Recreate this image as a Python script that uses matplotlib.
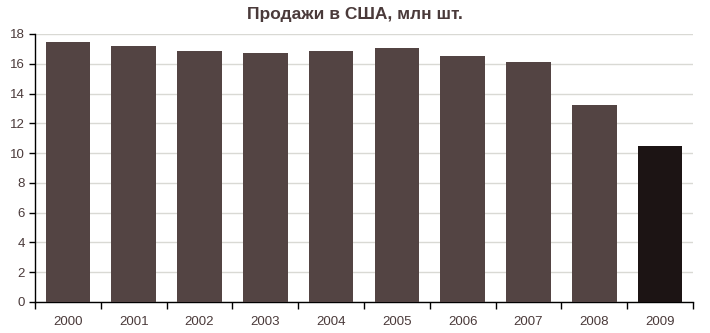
import matplotlib.pyplot as plt
import numpy as np

plt.rcParams['font.family'] = ['Liberation Sans', 'DejaVu Sans']

years = ['2000', '2001', '2002', '2003', '2004', '2005', '2006', '2007', '2008', '2009']
sales = [17.45, 17.2, 16.85, 16.7, 16.85, 17.05, 16.5, 16.1, 13.2, 10.5]
bar_colors = ['#534443'] * 9 + ['#1c1414']

fig = plt.figure(figsize=(7.1, 3.33), dpi=100)
ax = fig.add_axes([35 / 710, 1 - 302 / 333, 658 / 710, 268 / 333])

x = np.arange(len(years))
ax.bar(x, sales, width=0.68, color=bar_colors, zorder=3)

ax.set_xlim(-0.5, len(years) - 0.5)
ax.set_ylim(0, 18)
ax.set_yticks(np.arange(0, 19, 2))
ax.yaxis.grid(True, color='#d9d9d4', linewidth=1, zorder=0)

ax.set_xticks(x)
ax.set_xticklabels(years)
ax.set_xticks(np.arange(-0.5, len(years), 1), minor=True)
ax.tick_params(axis='x', which='major', length=0, pad=10, labelsize=9.5, labelcolor='#4a3a3a')
ax.tick_params(axis='x', which='minor', length=5, width=1, color='black')
ax.tick_params(axis='y', length=4, width=1, color='black', labelsize=9.5, labelcolor='#4a3a3a')

for s in ['top', 'right']:
    ax.spines[s].set_visible(False)
for s in ['left', 'bottom']:
    ax.spines[s].set_color('black')
    ax.spines[s].set_linewidth(1)

fig.text(0.5, 1 - 15 / 333, 'Продажи в США, млн шт.', ha='center', va='center',
         fontsize=12.5, fontweight='bold', color='#4a3a3a')

fig.savefig('out.png', dpi=100)
